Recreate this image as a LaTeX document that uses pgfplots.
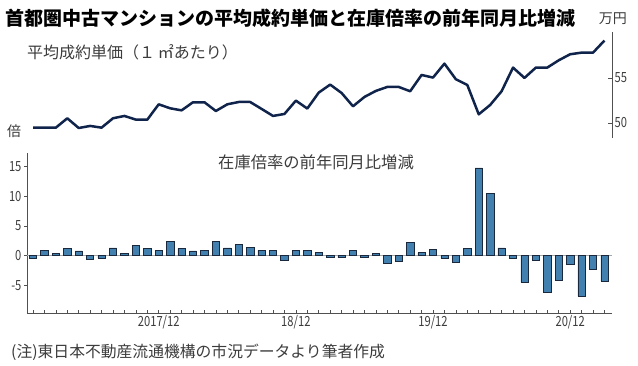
\documentclass[border=0pt]{standalone}
\usepackage{pgfplots}
\pgfplotsset{compat=1.18}
\usepackage{fontspec}
\setmainfont{Noto Sans CJK JP}
\newfontfamily\numfont[FakeStretch=0.8]{Noto Sans CJK JP}
\definecolor{barblue}{RGB}{66,128,176}
\definecolor{baredge}{RGB}{25,40,60}
\definecolor{navy}{RGB}{15,35,75}
\definecolor{txt}{RGB}{60,60,60}
\definecolor{axgray}{RGB}{80,80,80}
\pgfplotstableread{
x y
0 49.48
1 49.48
2 49.48
3 50.52
4 49.44
5 49.67
6 49.48
7 50.52
8 50.78
9 50.37
10 50.37
11 52.07
12 51.63
13 51.40
14 52.30
15 52.30
16 51.33
17 52.07
18 52.33
19 52.33
20 51.56
21 50.78
22 51.00
23 52.48
24 51.60
25 53.37
26 54.26
27 53.33
28 51.85
29 52.89
30 53.56
31 54.00
32 54.00
33 53.52
34 55.33
35 55.04
36 56.59
37 54.85
38 54.22
39 50.96
40 52.00
41 53.52
42 56.15
43 55.00
44 56.15
45 56.15
46 56.96
47 57.63
48 57.81
49 57.81
50 59.15
}\pricetable
\pgfplotstableread{
x y
0 -0.45
1 0.95
2 0.35
3 1.2
4 0.8
5 -0.65
6 -0.4
7 1.3
8 0.35
9 1.7
10 1.2
11 0.85
12 2.4
13 1.25
14 0.8
15 0.9
16 2.4
17 1.3
18 1.85
19 1.35
20 0.95
21 0.95
22 -0.7
23 0.9
24 0.95
25 0.5
26 -0.35
27 -0.35
28 0.85
29 -0.35
30 0.35
31 -1.35
32 -0.95
33 2.2
34 0.5
35 1.05
36 -0.4
37 -1.2
38 1.25
39 14.8
40 10.45
41 1.3
42 -0.5
43 -4.5
44 -0.8
45 -6.1
46 -4.2
47 -1.5
48 -6.85
49 -2.3
50 -4.3
}\stocktable
\begin{document}
\begin{tikzpicture}
\path[use as bounding box] (0pt,0pt) rectangle (638pt,-365pt);
% top axis: price
\begin{axis}[
  at={(27pt,-138pt)}, anchor=south west,
  scale only axis, width=585pt, height=106pt,
  xmin=-0.525, xmax=50.66, ymin=48.33, ymax=60.1,
  axis x line=none, axis y line*=right,
  axis line style={axgray, line width=0.6pt},
  xtick=\empty,
  ytick={50,55}, yticklabels={50,55},
  ytick align=inside, major tick length=4pt,
  tick style={axgray, line width=0.6pt},
  yticklabel style={font=\numfont\fontsize{14}{14}\selectfont, text=txt, xshift=-1pt},
  clip=false,
]
\addplot[navy, line width=2.5pt, line join=round] table[x=x,y=y] {\pricetable};
\end{axis}
% bottom axis: stock ratio change
\begin{axis}[
  at={(27pt,-313pt)}, anchor=south west,
  scale only axis, width=585pt, height=160pt,
  xmin=-0.525, xmax=50.66, ymin=-9.66, ymax=17.3,
  axis lines*=left,
  axis line style={axgray, line width=0.6pt},
  xtick={11,23,35,47}, xticklabels={2017/12,18/12,19/12,20/12},
  minor xtick={0,...,50},
  xtick align=inside, ytick align=outside,
  major tick length=3pt, minor tick length=3pt,
  tick style={axgray, line width=0.6pt},
  ytick={-5,0,5,10,15}, yticklabels={-5,0,5,10,15},
  ticklabel style={font=\numfont\fontsize{14}{14}\selectfont, text=txt},
  yticklabel style={xshift=1pt},
  xticklabel style={yshift=1pt},
]
\addplot[gray!70, line width=0.8pt, forget plot] coordinates {(-0.525,0) (50.66,0)};
\addplot[ybar, bar width=7.3pt, fill=barblue, draw=baredge, line width=0.6pt] table[x=x,y=y] {\stocktable};
\end{axis}
% texts
\node[anchor=west, inner sep=0pt] at (5pt,-18pt) {\fontsize{19}{20}\selectfont\bfseries 首都圏中古マンションの平均成約単価と在庫倍率の前年同月比増減};
\node[anchor=east, inner sep=0pt, text=txt] at (627pt,-19pt) {\fontsize{14}{14}\selectfont 万円};
\node[anchor=west, inner sep=0pt, text=txt] at (27pt,-52pt) {\fontsize{16}{16}\selectfont 平均成約単価（１\,㎡あたり）};
\node[inner sep=0pt, text=txt] at (14pt,-131pt) {\fontsize{14}{14}\selectfont 倍};
\node[inner sep=0pt, text=txt] at (316pt,-162pt) {\fontsize{16.3}{16}\selectfont 在庫倍率の前年同月比増減};
\node[anchor=west, inner sep=0pt, text=txt] at (11pt,-352pt) {\fontsize{15.8}{16}\selectfont (注)東日本不動産流通機構の市況データより筆者作成};
\end{tikzpicture}
\end{document}
